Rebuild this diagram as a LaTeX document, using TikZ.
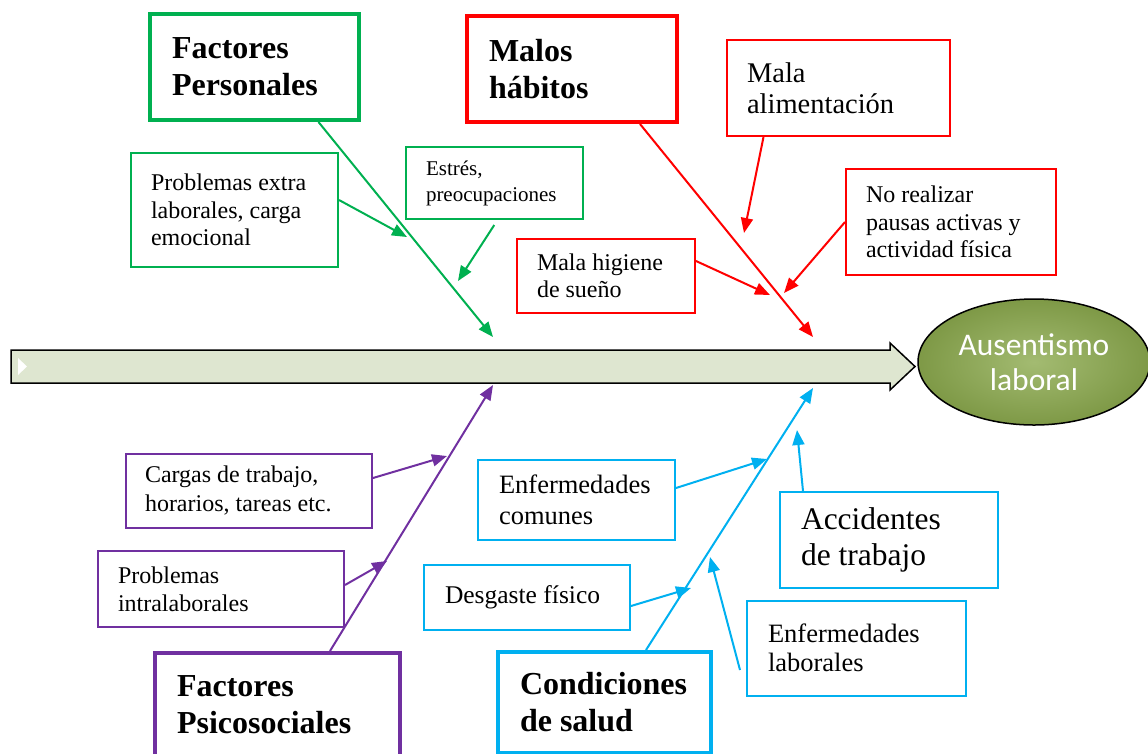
\documentclass[tikz,border=0pt]{standalone}
\usepackage{fontspec}
\setmainfont{Liberation Serif}
\newfontfamily\effectfont{Carlito}
\usepackage{xcolor}
\usetikzlibrary{positioning, shapes.geometric, arrows.meta}

\definecolor{persgreen}{HTML}{00B050}
\definecolor{habred}{HTML}{FF0000}
\definecolor{psicopurple}{HTML}{7030A0}
\definecolor{saludcyan}{HTML}{00B0F0}
\definecolor{spinefill}{HTML}{DEE6D0}
\definecolor{effectgreen}{HTML}{8CAA4E}

\begin{document}
\begin{tikzpicture}[x=1pt, y=-1pt, >={Triangle[length=15pt,width=12pt]},
    bigbox/.style={draw, line width=4pt, align=flush left, inner xsep=22pt, font=\bfseries\fontsize{32}{37}\selectfont},
    smallbox/.style={draw, line width=2pt, align=flush left, inner xsep=20pt},
    link/.style={->, line width=2pt}]
       \useasboundingbox (0,0) rectangle (1148,753);

       % Spine
       \draw[fill=spinefill, line width=1.5pt, line join=miter]
           (11,350) -- (890,350) -- (890,343) -- (915,366.5) -- (890,390) -- (890,383) -- (11,383) -- cycle;
       \fill[white] (18,358) -- (27,366.5) -- (18,375) -- cycle;
       \node[ellipse, draw, line width=1.5pt, inner color=effectgreen!80!white, outer color=effectgreen!90!black,
             minimum width=232pt, minimum height=126pt, text=white, align=center,
             font=\effectfont\fontsize{31.5}{35}\selectfont] (efecto) at (1034,362) {Ausentismo\\laboral};

       % Causes (top)
       \node[bigbox, draw=persgreen, minimum width=209pt, minimum height=106pt, text width=165pt] (pers) at (254.5,67) {Factores\\Personales};
       \node[bigbox, draw=habred, minimum width=210pt, minimum height=106pt, text width=166pt] (malos) at (572,69) {Malos\\hábitos};
       \node[smallbox, draw=habred, minimum width=223pt, minimum height=96pt, text width=183pt, font=\fontsize{28.5}{31}\selectfont] (alim) at (838.5,88) {Mala\\alimentación};
       \node[smallbox, draw=persgreen, minimum width=207pt, minimum height=114pt, text width=167pt, font=\fontsize{24}{27.5}\selectfont] (extra) at (234.5,210) {Problemas extra\\laborales, carga\\emocional};
       \node[smallbox, draw=persgreen, minimum width=177pt, minimum height=72pt, text width=137pt, font=\fontsize{21}{26}\selectfont] (estres) at (494.5,183) {Estrés,\\preocupaciones};
       \node[smallbox, draw=habred, minimum width=210pt, minimum height=106pt, text width=170pt, font=\fontsize{24}{27.5}\selectfont] (pausas) at (951,222) {No realizar\\pausas activas y\\actividad física};
       \node[smallbox, draw=habred, minimum width=178pt, minimum height=74pt, text width=138pt, font=\fontsize{24}{27}\selectfont] (higiene) at (606,276) {Mala higiene\\de sueño};

       % Causes (bottom)
       \node[smallbox, draw=psicopurple, inner xsep=19pt, minimum width=246pt, minimum height=74pt, text width=208pt, font=\fontsize{24}{29}\selectfont] (cargas) at (249,491) {Cargas de trabajo,\\horarios, tareas etc.};
       \node[smallbox, draw=psicopurple, minimum width=246pt, minimum height=76pt, text width=206pt, font=\fontsize{24}{28}\selectfont] (intra) at (221,589) {Problemas\\intralaborales};
       \node[bigbox, draw=psicopurple, minimum width=245pt, minimum height=103pt, text width=201pt] (psico) at (277.5,704.5) {Factores\\Psicosociales};
       \node[smallbox, draw=saludcyan, inner xsep=21pt, minimum width=197pt, minimum height=80pt, text width=155pt, font=\fontsize{26.5}{31}\selectfont] (comunes) at (576.5,500) {Enfermedades\\comunes};
       \node[smallbox, draw=saludcyan, inner xsep=21pt, minimum width=206pt, minimum height=65pt, text width=164pt, font=\fontsize{25.5}{30}\selectfont] (desgaste) at (527,597) {Desgaste físico};
       \node[bigbox, draw=saludcyan, minimum width=213pt, minimum height=101pt, text width=169pt] (salud) at (604.5,702.5) {Condiciones\\de salud};
       \node[smallbox, draw=saludcyan, inner xsep=21pt, minimum width=218pt, minimum height=96pt, text width=176pt, font=\fontsize{31.5}{36}\selectfont] (accid) at (889,540) {Accidentes\\de trabajo};
       \node[smallbox, draw=saludcyan, inner xsep=21pt, minimum width=219pt, minimum height=95pt, text width=177pt, font=\fontsize{26.5}{29}\selectfont] (labor) at (856.5,648) {Enfermedades\\laborales};

       % Arrow ends
       \coordinate (persend) at (493,337);
       \coordinate (malosend) at (813,337);
       \coordinate (psicoend) at (493,385);
       \coordinate (saludend) at (813,388);
       \coordinate (extraend) at (407,237);
       \coordinate (estresend) at (458,281);
       \coordinate (alimend) at (744,233);
       \coordinate (pausasend) at (784,293);
       \coordinate (higieneend) at (770,295);
       \coordinate (cargasend) at (447,456);
       \coordinate (intraend) at (387,561);
       \coordinate (comunesend) at (767,459);
       \coordinate (desgasteend) at (691,588);
       \coordinate (accidend) at (797,430);
       \coordinate (laborend) at (710,557);

       % Arrows
       \draw[link, persgreen] ([xshift=64pt]pers.south) -- (persend);
       \draw[link, persgreen] ([yshift=10pt]extra.east) -- (extraend);
       \draw[link, persgreen, shorten <=6pt] ([xshift=3pt]estres.south) -- (estresend);
       \draw[link, habred] ([xshift=68pt]malos.south) -- (malosend);
       \draw[link, habred] ([xshift=-75pt]alim.south) -- (alimend);
       \draw[link, habred] (pausas.west) -- (pausasend);
       \draw[link, habred] ([yshift=15pt]higiene.east) -- (higieneend);
       \draw[link, psicopurple] ([xshift=52.5pt]psico.north) -- (psicoend);
       \draw[link, psicopurple] ([yshift=13pt]cargas.east) -- (cargasend);
       \draw[link, psicopurple] ([yshift=4pt]intra.east) -- (intraend);
       \draw[link, saludcyan] ([xshift=41.5pt]salud.north) -- (saludend);
       \draw[link, saludcyan] ([yshift=12pt]comunes.east) -- (comunesend);
       \draw[link, saludcyan] ([yshift=-9pt]desgaste.east) -- (desgasteend);
       \draw[link, saludcyan] ([xshift=-86pt]accid.north) -- (accidend);
       \draw[link, saludcyan] ([xshift=-6pt,yshift=-22pt]labor.west) -- (laborend);
\end{tikzpicture}
\end{document}
